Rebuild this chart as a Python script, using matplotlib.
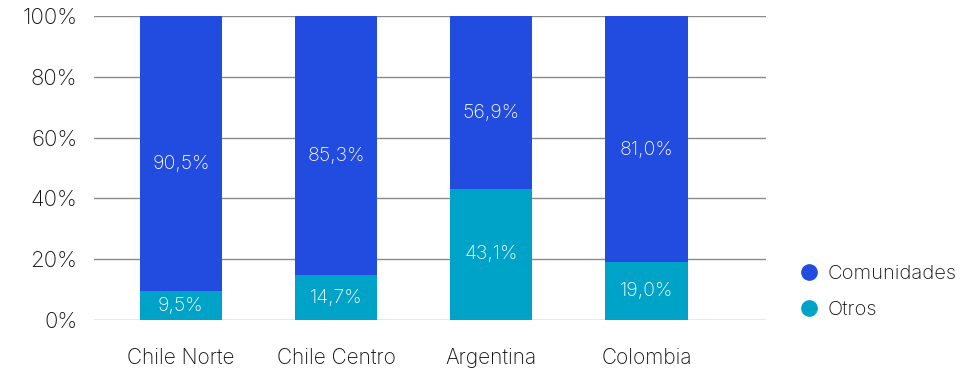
import numpy as np
import matplotlib.pyplot as plt
from matplotlib.lines import Line2D

plt.rcParams['font.family'] = ['Inter', 'DejaVu Sans']

paises = ['Chile Norte', 'Chile Centro', 'Argentina', 'Colombia']
otros = [9.5, 14.7, 43.1, 19.0]
comunidades = [90.5, 85.3, 56.9, 81.0]
yticks = [0, 20, 40, 60, 80, 100]

azul = '#224BDF'
celeste = '#00A3C8'

fig = plt.figure(figsize=(9.66, 3.7), dpi=100)
ax = fig.add_axes([94/966, 1-320/370, (766-94)/966, (320-16)/370])

x = np.arange(len(paises))
ancho = 0.53
ax.bar(x, otros, ancho, color=celeste, zorder=3)
ax.bar(x, comunidades, ancho, bottom=otros, color=azul, zorder=3)

def fmt(v):
    return f'{v:.1f}%'.replace('.', ',')

# etiquetas un poco por debajo del centro del tramo azul, como en el original
for i in range(len(paises)):
    ax.text(x[i], otros[i] / 2, fmt(otros[i]), ha='center', va='center',
            color='white', fontsize=14, fontweight='light', zorder=4)
    ax.text(x[i], otros[i] + comunidades[i] / 2 - 3.5, fmt(comunidades[i]), ha='center',
            va='center', color='white', fontsize=14, fontweight='light', zorder=4)

ax.set_xlim(-0.56, 3.77)
ax.set_ylim(0, 100)
ax.set_yticks(yticks)
ax.set_yticklabels([f'{t}%' for t in yticks], fontsize=16, fontweight='light', color='#111111')
ax.set_xticks(x)
ax.set_xticklabels(paises, fontsize=15, fontweight='light', color='#111111')
ax.tick_params(length=0, pad=12)
ax.tick_params(axis='x', pad=20)
ax.grid(axis='y', color='#8a8a8a', linewidth=1, zorder=0)
for s in ax.spines.values():
    s.set_visible(False)

handles = [Line2D([], [], marker='o', ls='', color=azul, markersize=11),
           Line2D([], [], marker='o', ls='', color=celeste, markersize=11)]
fig.legend(handles, ['Comunidades', 'Otros'], loc='center left',
           bbox_to_anchor=(789/966, 1-292/370), frameon=False,
           borderpad=0, handlelength=1.0, handletextpad=0.4, labelspacing=0.9,
           prop={'weight': 'light', 'size': 14.5}, labelcolor='#111111')

fig.savefig('out.png', dpi=100)
